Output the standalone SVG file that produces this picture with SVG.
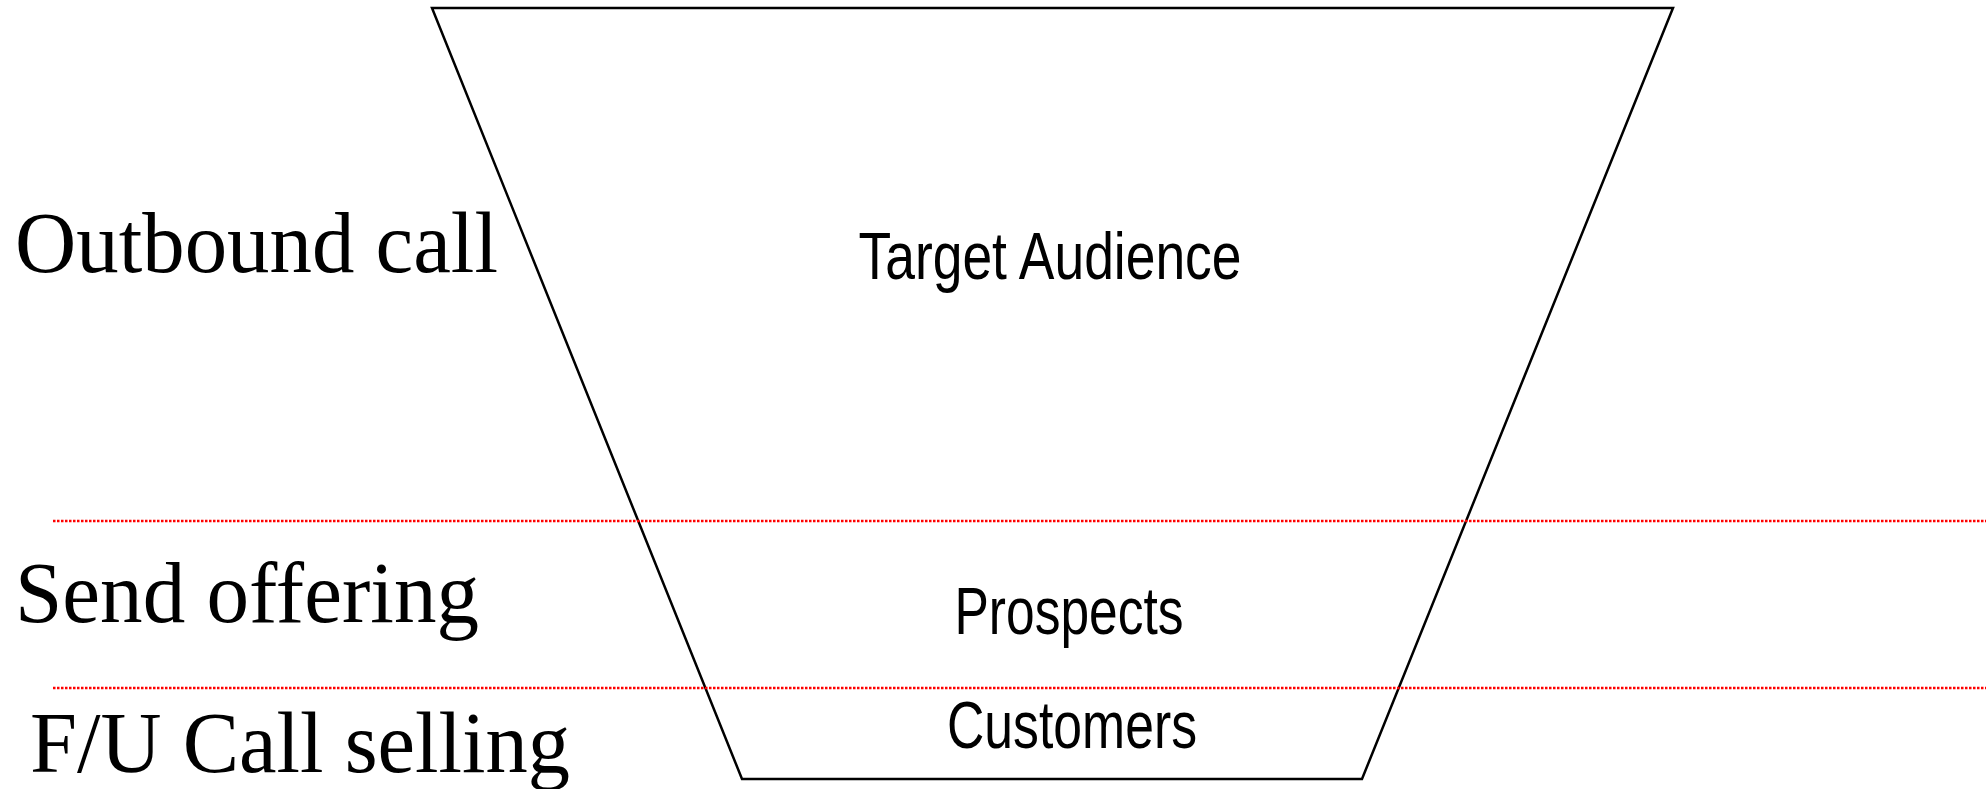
<svg xmlns="http://www.w3.org/2000/svg" width="1986" height="789" viewBox="0 0 1986 789">
<style>
.stage{font-family:"Liberation Serif","Times New Roman",serif;font-size:86px;fill:#000}
.lbl{font-family:"Liberation Sans",Arial,sans-serif;font-size:66px;fill:#000;text-anchor:middle}
.sep{stroke:#ff0000;stroke-width:2.5;stroke-dasharray:2.5 1.5;fill:none}
</style>
<rect width="1986" height="789" fill="#fff"/>
<g id="funnel">
<polygon points="432,8 1673,8 1362,779 742,779" fill="none" stroke="#000" stroke-width="2.5" stroke-linejoin="miter"/>
</g>
<g id="connectors">
<line class="sep" x1="53" y1="521" x2="1986" y2="521"/>
<line class="sep" x1="53" y1="688" x2="1986" y2="688"/>
</g>
<g id="stage-outbound"><text class="stage" x="15" y="272" textLength="483" lengthAdjust="spacingAndGlyphs">Outbound call</text></g>
<g id="stage-send"><text class="stage" x="15" y="622" textLength="464" lengthAdjust="spacingAndGlyphs">Send offering</text></g>
<g id="stage-fu"><text class="stage" x="30" y="772" textLength="540" lengthAdjust="spacingAndGlyphs">F/U Call selling</text></g>
<g id="target"><text class="lbl" x="1050" y="279" textLength="383" lengthAdjust="spacingAndGlyphs">Target Audience</text></g>
<g id="prospects"><text class="lbl" x="1069" y="634" textLength="229" lengthAdjust="spacingAndGlyphs">Prospects</text></g>
<g id="customers"><text class="lbl" x="1072" y="748" textLength="250" lengthAdjust="spacingAndGlyphs">Customers</text></g>
</svg>
